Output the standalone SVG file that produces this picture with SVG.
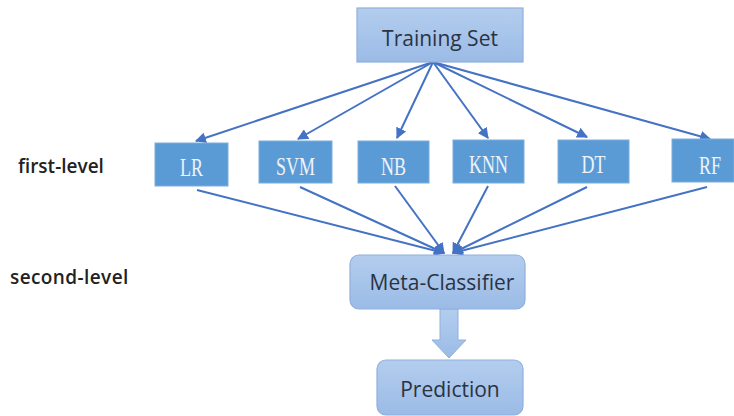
<svg xmlns="http://www.w3.org/2000/svg" width="734" height="416" viewBox="0 0 734 416">
<defs>
<linearGradient id="lg" x1="0" y1="0" x2="0" y2="1">
<stop offset="0" stop-color="#b3cdee"/>
<stop offset="1" stop-color="#9bbbe6"/>
</linearGradient>
<marker id="ah" viewBox="0 0 10 10" refX="9" refY="5" markerWidth="5.5" markerHeight="5.5" orient="auto" markerUnits="strokeWidth">
<path d="M0,0 L10,5 L0,10 z" fill="#4472c4"/>
</marker>
<style>
.light{fill:url(#lg);stroke:#8fb0dd;stroke-width:1.2}
.dark{fill:#5b9bd5;stroke:#7aaede;stroke-width:1}
.lt{font-family:"Open Sans","Liberation Sans",sans-serif;font-size:21px;fill:#2b3342;text-anchor:middle}
.dt{font-family:"Liberation Serif",serif;font-size:25px;fill:#eef3fa;text-anchor:middle}
.side{font-family:"Open Sans","Liberation Sans",sans-serif;font-size:19px;font-weight:600;fill:#222}
.c{stroke:#4472c4;stroke-width:2;fill:none;marker-end:url(#ah)}
</style>
</defs>
<rect width="734" height="416" fill="#ffffff"/>
<text class="side" x="18" y="173">first-level</text>
<text class="side" x="10" y="284" letter-spacing="0.4">second-level</text>
<g id="connectors">
<line class="c" x1="433" y1="62" x2="196" y2="141"/>
<line class="c" x1="433" y1="62" x2="298" y2="139"/>
<line class="c" x1="433" y1="62" x2="397" y2="138"/>
<line class="c" x1="433" y1="62" x2="488" y2="138"/>
<line class="c" x1="433" y1="62" x2="587" y2="137"/>
<line class="c" x1="433" y1="62" x2="710" y2="139"/>
<line class="c" x1="197" y1="190" x2="444" y2="253"/>
<line class="c" x1="300" y1="187" x2="444" y2="253"/>
<line class="c" x1="395" y1="186" x2="444" y2="253"/>
<line class="c" x1="488" y1="186" x2="453" y2="253"/>
<line class="c" x1="587" y1="187" x2="453" y2="253"/>
<line class="c" x1="707" y1="187" x2="453" y2="253"/>
<path d="M440,309 L458,309 L458,340 L466,340 L449,358 L432,340 L440,340 Z" fill="url(#lg)" stroke="#8fb0dd" stroke-width="1"/>
</g>
<g id="training"><rect class="light" x="357" y="8" width="166" height="54"/><text class="lt" x="440" y="46">Training Set</text></g>
<g id="lr"><rect class="dark" x="155" y="143" width="73" height="43"/><text class="dt" transform="translate(191.5,176) scale(0.72,1)">LR</text></g>
<g id="svm"><rect class="dark" x="259" y="141" width="73" height="42"/><text class="dt" transform="translate(295.5,175) scale(0.72,1)">SVM</text></g>
<g id="nb"><rect class="dark" x="358" y="141" width="71" height="42"/><text class="dt" transform="translate(393.5,175) scale(0.72,1)">NB</text></g>
<g id="knn"><rect class="dark" x="453" y="140" width="71" height="43"/><text class="dt" transform="translate(488.5,173) scale(0.72,1)">KNN</text></g>
<g id="dt"><rect class="dark" x="558" y="140" width="71" height="43"/><text class="dt" transform="translate(593.5,173) scale(0.72,1)">DT</text></g>
<g id="rf"><rect class="dark" x="672" y="139" width="62" height="43"/><text class="dt" transform="translate(710,174) scale(0.72,1)">RF</text></g>
<g id="meta"><rect class="light" x="350" y="255" width="175" height="54" rx="9"/><text class="lt" x="442" y="290">Meta-Classifier</text></g>
<g id="prediction"><rect class="light" x="377" y="360" width="146" height="55" rx="9"/><text class="lt" x="450" y="397">Prediction</text></g>
</svg>
